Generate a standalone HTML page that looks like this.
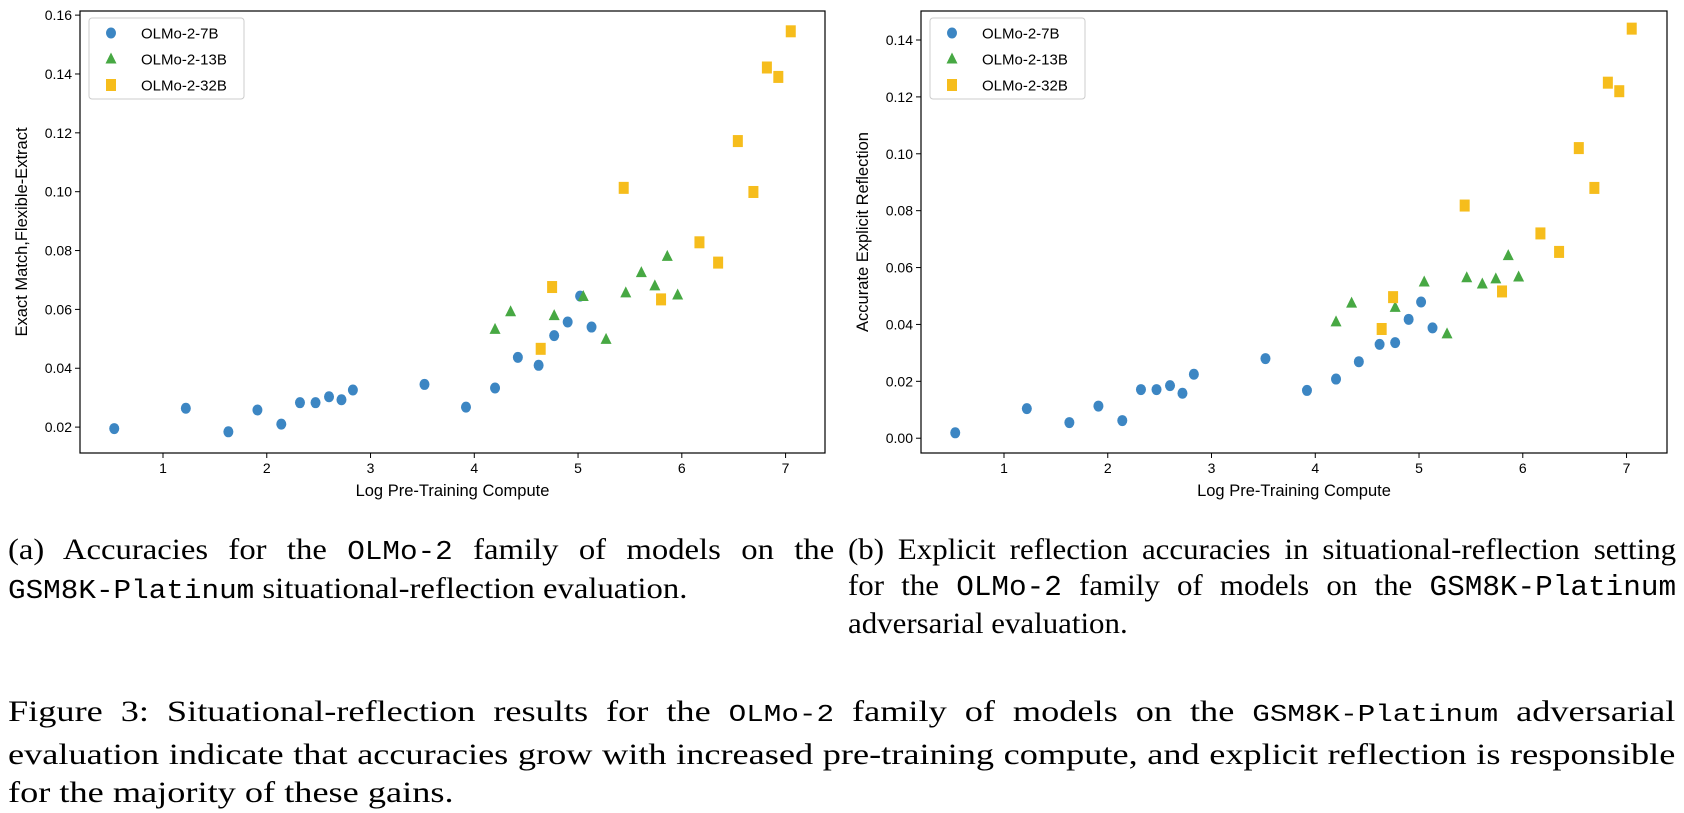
<!DOCTYPE html>
<html><head><meta charset="utf-8">
<style>
body{margin:0;width:1684px;height:796px;background:#fff;overflow:hidden;position:relative;font-family:"Liberation Serif",serif;}
svg{position:absolute;left:0;top:0}
.cap{position:absolute;font-family:"Liberation Serif",serif;font-size:30px;line-height:36px;color:#000;text-align:justify;transform-origin:0 0}
.mono{font-family:"Liberation Mono",monospace;letter-spacing:0;white-space:nowrap}
</style></head><body>
<svg id="chart" width="1684" height="500" xmlns="http://www.w3.org/2000/svg"></svg>
<div class="cap" style="left:8px;top:532px;width:758px;transform:scaleX(1.09)">(a) Accuracies for the <span class="mono" style="font-size:26.9px">OLMo-2</span> family of models on the <span class="mono" style="font-size:26.9px">GSM8K-Platinum</span> situational-reflection evaluation.</div>
<div class="cap" style="left:848px;top:532px;width:804px;transform:scaleX(1.03)">(b) Explicit reflection accuracies in situational-reflection setting for the <span class="mono" style="font-size:28.5px">OLMo-2</span> family of models on the <span class="mono" style="font-size:28.5px">GSM8K-Platinum</span> adversarial evaluation.</div>
<div class="cap" style="left:8px;top:693px;width:1378px;line-height:38.5px;transform:scaleX(1.21)">Figure 3: Situational-reflection results for the <span class="mono" style="font-size:24.2px">OLMo-2</span> family of models on the <span class="mono" style="font-size:24.2px">GSM8K-Platinum</span> adversarial evaluation indicate that accuracies grow with increased pre-training compute, and explicit reflection is responsible for the majority of these gains.</div>
<script>
const x7 = [0.53,1.22,1.63,1.91,2.14,2.32,2.47,2.60,2.72,2.83,3.52,3.92,4.20,4.42,4.62,4.77,4.90,5.02,5.13];
const aY7 = [0.0195,0.0264,0.0184,0.0258,0.021,0.0283,0.0283,0.0303,0.0293,0.0326,0.0345,0.0268,0.0333,0.0437,0.041,0.0511,0.0557,0.0645,0.054];
const bY7 = [0.0019,0.0104,0.0055,0.0113,0.0062,0.0171,0.0171,0.0185,0.0158,0.0225,0.028,0.0168,0.0208,0.0269,0.033,0.0336,0.0418,0.0479,0.0388];
const x13 = [4.20,4.35,4.77,5.05,5.27,5.46,5.61,5.74,5.86,5.96];
const aY13 = [0.0532,0.0592,0.0579,0.0644,0.0498,0.0656,0.0725,0.068,0.078,0.0649];
const bY13 = [0.0409,0.0475,0.046,0.0549,0.0367,0.0564,0.0542,0.056,0.0642,0.0567];
const x32 = [4.64,4.75,5.44,5.80,6.17,6.35,6.54,6.69,6.82,6.93,7.05];
const aY32 = [0.0466,0.0676,0.1013,0.0634,0.0828,0.0759,0.1172,0.0999,0.1422,0.139,0.1545];
const bY32 = [0.0384,0.0496,0.0818,0.0516,0.072,0.0655,0.102,0.088,0.125,0.122,0.144];
const xTicks = [1,2,3,4,5,6,7];
const aYTicks = [0.02,0.04,0.06,0.08,0.10,0.12,0.14,0.16];
const bYTicks = [0.00,0.02,0.04,0.06,0.08,0.10,0.12,0.14];
const seriesNames = ["OLMo-2-7B","OLMo-2-13B","OLMo-2-32B"];

const NS="http://www.w3.org/2000/svg";
const svg=document.getElementById('chart');
function mk(tag,attrs,parent){const e=document.createElementNS(NS,tag);for(const k in attrs)e.setAttribute(k,attrs[k]);(parent||svg).appendChild(e);return e;}
const COL=["#3c86c3","#47a843","#f6bd1c"];
function marker(kind,cx,cy,g){
  let e;
  if(kind===0) e=mk('ellipse',{cx:cx,cy:cy,rx:5,ry:5.5,fill:COL[0]},g);
  else if(kind===1) e=mk('polygon',{points:`${cx},${cy-6.5} ${cx+5.5},${cy+4.5} ${cx-5.5},${cy+4.5}`,fill:COL[1]},g);
  else e=mk('rect',{x:cx-5,y:cy-6,width:10,height:12,fill:COL[2]},g);
  return e;
}
function panel(p){
  const g=mk('g',{});
  
  
  const X=v=>p.L+(v-p.xmin)/(p.xmax-p.xmin)*(p.R-p.L);
  const Y=v=>p.B-(v-p.ymin)/(p.ymax-p.ymin)*(p.B-p.T);
  const fr=mk('rect',{x:p.L,y:p.T,width:p.R-p.L,height:p.B-p.T,fill:'none',stroke:'#000','stroke-width':1.2},g);
  
  
  xTicks.forEach(t=>{
    mk('line',{x1:X(t),x2:X(t),y1:p.B,y2:p.B+5,stroke:'#000'},g);
    const tx=mk('text',{x:X(t),y:p.B+20,'text-anchor':'middle','font-size':14,'font-family':'Liberation Sans, sans-serif'},g);
    tx.textContent=t;
    
    
  });
  p.yt.forEach(t=>{
    mk('line',{x1:p.L-5,x2:p.L,y1:Y(t),y2:Y(t),stroke:'#000'},g);
    const tx=mk('text',{x:p.L-8,y:Y(t)+5,'text-anchor':'end','font-size':14,'font-family':'Liberation Sans, sans-serif'},g);
    tx.textContent=t.toFixed(2);
    
    
  });
  const xl=mk('text',{x:(p.L+p.R)/2,y:p.B+43,'text-anchor':'middle','font-size':16.5,'font-family':'Liberation Sans, sans-serif'},g);
  xl.textContent='Log Pre-Training Compute';
  
  
  const yl=mk('text',{x:0,y:0,'text-anchor':'middle','font-size':16.5,'font-family':'Liberation Sans, sans-serif',transform:`translate(${p.yx},${(p.T+p.B)/2}) rotate(-90)`},g);
  yl.textContent=p.ylabel;
  
  
  const sets=[[x7,p.y7],[x13,p.y13],[x32,p.y32]];
  sets.forEach((s,k)=>{
    s[0].forEach((xv,i)=>{
      const m=marker(k,X(xv),Y(s[1][i]),g);
      
      
    });
  });
  const lg=mk('g',{},g);
  
  
  mk('rect',{x:p.L+9,y:p.T+7,width:155,height:81,rx:3,fill:'#fff',stroke:'#ccc'},lg);
  seriesNames.forEach((n,k)=>{
    const cy=p.T+22+k*26;
    marker(k,p.L+31,cy,lg);
    const t=mk('text',{x:p.L+61,y:cy+5.5,'font-size':15,'font-family':'Liberation Sans, sans-serif'},lg);
    t.textContent=n;
    
    
  });
}
panel({name:'chart-a',L:80,R:825,T:11,B:453,xmin:0.2,xmax:7.38,ymin:0.0112,ymax:0.1614,yt:aYTicks,y7:aY7,y13:aY13,y32:aY32,ylabel:'Exact Match,Flexible-Extract',yx:27});
panel({name:'chart-b',L:921,R:1667,T:11,B:453,xmin:0.2,xmax:7.39,ymin:-0.0052,ymax:0.1502,yt:bYTicks,y7:bY7,y13:bY13,y32:bY32,ylabel:'Accurate Explicit Reflection',yx:868});
</script>
</body></html>
